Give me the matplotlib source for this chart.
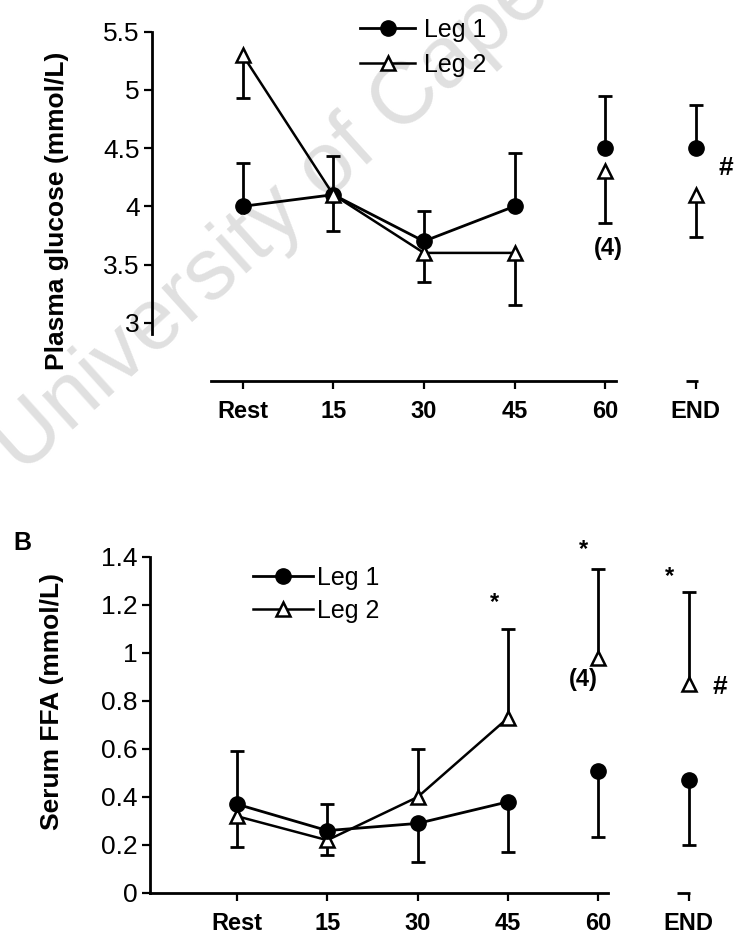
import numpy as np
import matplotlib.pyplot as plt

plt.rcParams['font.family'] = ['Liberation Sans', 'DejaVu Sans']

times = ['Rest', '15', '30', '45', '60', 'END']

# plasma glucose (mmol/L): means and the end of the one-sided SD bar
glu_leg1 = [4.0, 4.1, 3.7, 4.0, 4.5, 4.5]
glu_leg1_bar = [4.37, 4.43, 3.96, 4.46, 4.95, 4.87]
glu_leg2 = [5.3, 4.1, 3.6, 3.6, 4.3, 4.1]
glu_leg2_bar = [4.93, 3.79, 3.35, 3.15, 3.86, 3.74]
glu_ticks = [3, 3.5, 4, 4.5, 5, 5.5]

# serum FFA (mmol/L)
ffa_leg1 = [0.37, 0.26, 0.29, 0.38, 0.51, 0.47]
ffa_leg1_bar = [0.59, 0.37, 0.13, 0.17, 0.235, 0.20]
ffa_leg2 = [0.32, 0.22, 0.40, 0.73, 0.98, 0.87]
ffa_leg2_bar = [0.19, 0.16, 0.60, 1.10, 1.35, 1.255]
ffa_ticks = [0, 0.2, 0.4, 0.6, 0.8, 1, 1.2, 1.4]

x = np.arange(1, len(times) + 1)
n_joined = 4  # Rest..45 are joined by lines, 60 and END stand alone

fig = plt.figure(figsize=(7.34, 9.36), dpi=100)

fig.text(0.03, 0.492, 'University of Cape Town', rotation=42, rotation_mode='anchor',
         ha='left', va='baseline', fontsize=63, color='#e0e0e0', zorder=-1)


def panel(ax, y1, bar1, y2, bar2, leg2_on_top):
    z1, z2 = (4, 5) if leg2_on_top else (5, 4)
    for y, bar in ((y1, bar1), (y2, bar2)):
        ax.vlines(x, y, bar, color='k', lw=2, zorder=2)
        ax.plot(x, bar, ls='none', marker='_', ms=10, mew=2, color='k', zorder=2)
    l1, = ax.plot(x[:n_joined], y1[:n_joined], '-o', color='k', lw=2, ms=11,
                  zorder=z1, label='Leg 1')
    ax.plot(x[n_joined:], y1[n_joined:], 'o', color='k', ms=11, zorder=z1)
    tri = dict(marker='^', mfc='white', mec='k', mew=1.8, ms=10, color='k')
    l2, = ax.plot(x[:n_joined], y2[:n_joined], '-', lw=1.8, zorder=z2,
                  label='Leg 2', **tri)
    ax.plot(x[n_joined:], y2[n_joined:], ls='none', zorder=z2, **tri)

    ax.patch.set_visible(False)
    for s in ('top', 'right'):
        ax.spines[s].set_visible(False)
    for s in ('left', 'bottom'):
        ax.spines[s].set_linewidth(2)
    ax.tick_params(direction='out', length=6, width=1.6)
    ax.tick_params(axis='x', pad=8)
    ax.tick_params(axis='y', pad=3)
    ax.set_xticks(x, times, fontsize=17, fontweight='bold')
    return l1, l2


def end_stub(ax, x0, x1):
    y0 = ax.get_ylim()[0]
    ax.plot([x0, x1], [y0, y0], color='k', lw=2, clip_on=False,
            solid_capstyle='butt')


# A: plasma glucose
axA = fig.add_axes([152 / 734, 1 - 381 / 936, 580 / 734, 361 / 936])
hA = panel(axA, glu_leg1, glu_leg1_bar, glu_leg2, glu_leg2_bar, True)
axA.set_xlim(0, 6.4)
axA.set_ylim(2.5, 5.6)
axA.set_yticks(glu_ticks, ['{:g}'.format(t) for t in glu_ticks], fontsize=19)
axA.spines['left'].set_bounds(2.9, 5.5)
axA.spines['bottom'].set_bounds(0.65, 5.12)
end_stub(axA, 5.89, 6.02)
axA.text(1.0, 3.92, '*', ha='center', va='center', fontsize=14, fontweight='bold', zorder=3)
axA.text(5.03, 3.64, '(4)', ha='center', va='center', fontsize=17, fontweight='bold')
axA.text(6.33, 4.33, '#', ha='center', va='center', fontsize=19, fontweight='bold')
axA.legend(handles=hA, loc='center left', bbox_to_anchor=(360 / 734, 1 - 47.5 / 936),
           bbox_transform=fig.transFigure, frameon=False, fontsize=18, numpoints=1,
           handlelength=2.2, handletextpad=0.35, labelspacing=0.45,
           borderpad=0, borderaxespad=0)
fig.text(57 / 734, 1 - 211 / 936, 'Plasma glucose (mmol/L)', rotation=90,
         ha='center', va='center', fontsize=19, fontweight='bold')

# B: serum FFA
axB = fig.add_axes([150 / 734, 1 - 893 / 936, 575 / 734, 348 / 936])
hB = panel(axB, ffa_leg1, ffa_leg1_bar, ffa_leg2, ffa_leg2_bar, False)
axB.set_xlim(0.038, 6.4)
axB.set_ylim(0, 1.45)
axB.set_yticks(ffa_ticks, ['{:g}'.format(t) for t in ffa_ticks], fontsize=19)
axB.spines['left'].set_bounds(0, 1.4)
axB.spines['bottom'].set_bounds(0.038, 5.10)
end_stub(axB, 5.87, 6.01)
for tx, ty in [(3.85, 1.21), (4.83, 1.43), (5.79, 1.32)]:
    axB.text(tx, ty, '*', ha='center', va='center', fontsize=17, fontweight='bold')
axB.text(4.83, 0.89, '(4)', ha='center', va='center', fontsize=17, fontweight='bold')
axB.text(6.34, 0.86, '#', ha='center', va='center', fontsize=19, fontweight='bold')
axB.legend(handles=hB, loc='center left', bbox_to_anchor=(253 / 734, 1 - 594.5 / 936),
           bbox_transform=fig.transFigure, frameon=False, fontsize=18, numpoints=1,
           handlelength=2.4, handletextpad=0.15, labelspacing=0.35,
           borderpad=0, borderaxespad=0)
fig.text(52 / 734, 1 - 702 / 936, 'Serum FFA (mmol/L)', rotation=90,
         ha='center', va='center', fontsize=19, fontweight='bold')
fig.text(22 / 734, 1 - 543 / 936, 'B', ha='center', va='center',
         fontsize=18, fontweight='bold')

fig.savefig('out.png', dpi=100)
